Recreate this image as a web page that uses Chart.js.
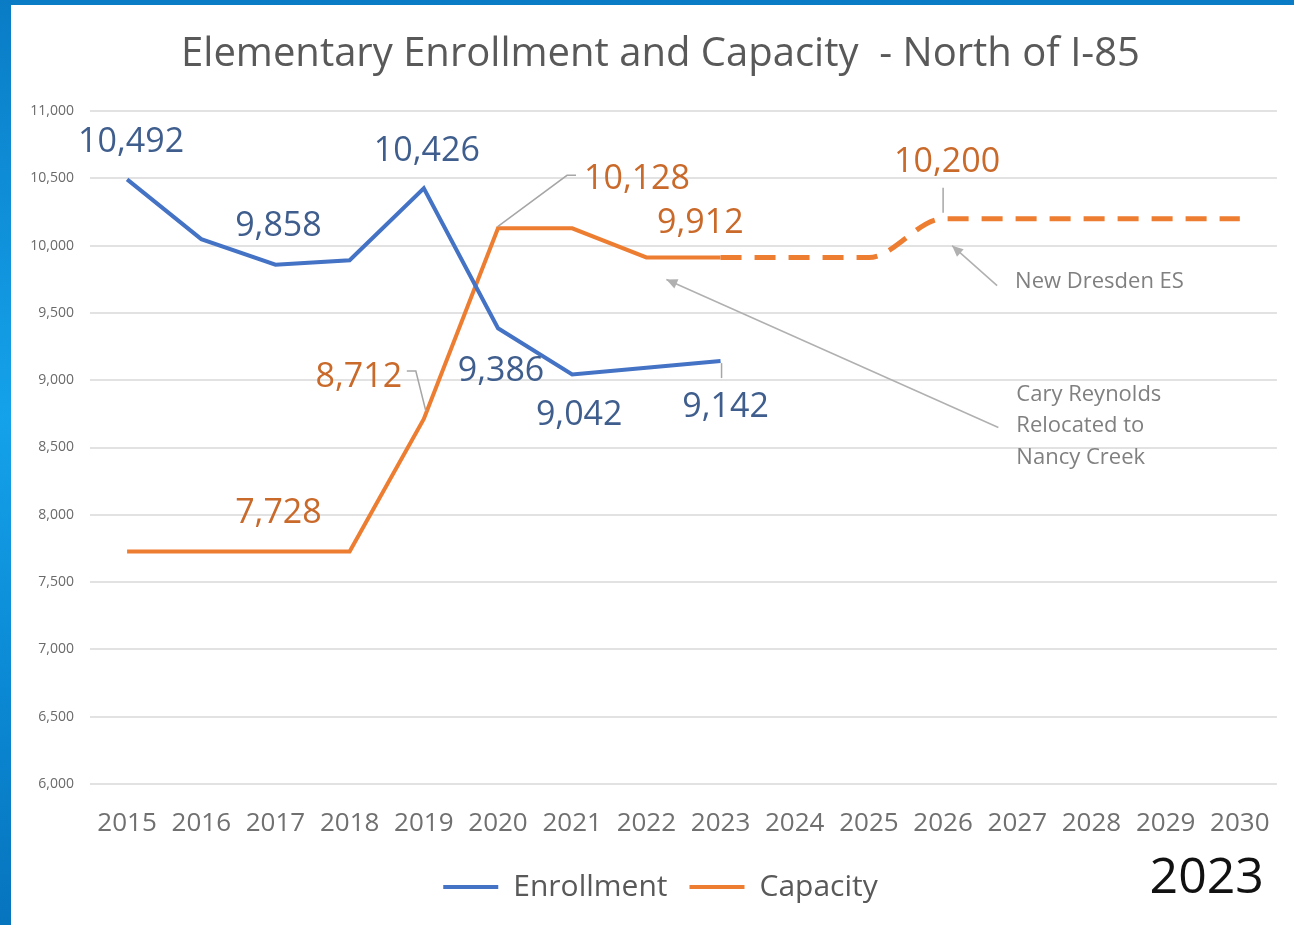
<!DOCTYPE html>
<html><head><meta charset="utf-8">
<script src="https://cdn.jsdelivr.net/npm/chart.js@4/dist/chart.umd.min.js"></script>
<style>
html,body{margin:0;padding:0;}
body{width:1294px;height:925px;overflow:hidden;position:relative;background:linear-gradient(180deg,#0a7cc6 0%,#14a2ea 45%,#0b88d3 75%,#0774be 100%);}
#wrap{position:absolute;left:11px;top:5px;width:1283px;height:920px;background:#fff;}
canvas{display:block;}
</style></head><body><div id="wrap"><canvas id="c" width="1283" height="920"></canvas></div>
<script>
// ---------- data ----------
const years = ['2015','2016','2017','2018','2019','2020','2021','2022','2023','2024','2025','2026','2027','2028','2029','2030'];
const enrollment = [10492, 10048, 9858, 9891, 10426, 9386, 9042, 9092, 9142, null, null, null, null, null, null, null];
const capacity = [7728, 7728, 7728, 7728, 8712, 10128, 10128, 9912, 9912, null, null, null, null, null, null, null];
const capacityPlanned = [null, null, null, null, null, null, null, null, 9912, 9912, 9912, 10200, 10200, 10200, 10200, 10200];
const yTickValues = [6000, 6500, 7000, 7500, 8000, 8500, 9000, 9500, 10000, 10500, 11000];
const enrollmentLabelYears = ['2015','2017','2019','2020','2021','2023'];
const capacityLabelYears = ['2017','2019','2020','2022'];
const plannedLabelYears = ['2026'];
const titleText = 'Elementary Enrollment and Capacity  - North of I-85';
const noteDresden = 'New Dresden ES';
const noteCary = ['Cary Reynolds', 'Relocated to', 'Nancy Creek'];
const cornerText = '2023';

// ---------- styling ----------
const FONT = "'Open Sans', sans-serif";
const BLUE = '#4472C4', ORANGE = '#ED7D31';
const BLUE_LABEL = '#3F5E8D', ORANGE_LABEL = '#C9692A';
const labelOffsets = [
  {'2015':[4,-37], '2017':[3,-38], '2019':[3,-37], '2020':[3,43], '2021':[7,41], '2023':[5,46]},
  {'2017':[3,-38], '2019':[-65,-42], '2020':[139,-49], '2022':[54,-34]},
  {'2026':[4,-56]}
];

const overlay = {
  id: 'overlay',
  afterDatasetsDraw(chart) {
    const ctx = chart.ctx, xs = chart.scales.x, ys = chart.scales.y;
    const pt = (ds, year) => {
      const i = years.indexOf(year);
      return [xs.getPixelForValue(i), ys.getPixelForValue(chart.data.datasets[ds].data[i])];
    };
    ctx.save();
    // leader lines
    ctx.strokeStyle = '#a6a6a6'; ctx.lineWidth = 1.5;
    const poly = (ds, year, pts) => {
      const [x, y] = pt(ds, year);
      ctx.beginPath();
      pts.forEach(([dx, dy], k) => k ? ctx.lineTo(x + dx, y + dy) : ctx.moveTo(x + dx, y + dy));
      ctx.stroke();
    };
    poly(0, '2023', [[1,2],[1,17]]);
    poly(1, '2019', [[-17,-48],[-8,-48],[2,-8]]);
    poly(1, '2020', [[0,-2],[69,-53],[78,-53]]);
    poly(2, '2026', [[0,-6],[0,-31]]);
    // arrows
    const arrow = (ds, year, head, tail) => {
      const [x, y] = pt(ds, year);
      const hx = x + head[0], hy = y + head[1], tx = x + tail[0], ty = y + tail[1];
      ctx.strokeStyle = '#b0b0b0'; ctx.fillStyle = '#b0b0b0'; ctx.lineWidth = 1.5;
      ctx.beginPath(); ctx.moveTo(tx, ty); ctx.lineTo(hx, hy); ctx.stroke();
      const a = Math.atan2(hy - ty, hx - tx), L = 11, W = 5;
      ctx.beginPath();
      ctx.moveTo(hx, hy);
      ctx.lineTo(hx - L * Math.cos(a) + W * Math.sin(a), hy - L * Math.sin(a) - W * Math.cos(a));
      ctx.lineTo(hx - L * Math.cos(a) - W * Math.sin(a), hy - L * Math.sin(a) + W * Math.cos(a));
      ctx.closePath(); ctx.fill();
    };
    arrow(2, '2026', [9, 27], [54, 67]);
    arrow(1, '2022', [20, 22], [352, 170]);
    // data labels
    ctx.textAlign = 'center'; ctx.textBaseline = 'middle';
    ctx.font = '34px ' + FONT;
    const lab = (ds, list, color) => {
      ctx.fillStyle = color;
      list.forEach(year => {
        const [x, y] = pt(ds, year);
        const off = labelOffsets[ds][year];
        const v = chart.data.datasets[ds].data[years.indexOf(year)];
        ctx.fillText(v.toLocaleString('en-US'), x + off[0], y + off[1]);
      });
    };
    lab(0, enrollmentLabelYears, BLUE_LABEL);
    lab(1, capacityLabelYears, ORANGE_LABEL);
    lab(2, plannedLabelYears, ORANGE_LABEL);
    // notes
    ctx.fillStyle = '#808080'; ctx.textAlign = 'left';
    ctx.font = '22px ' + FONT;
    {
      const [x, y] = pt(2, '2026');
      ctx.fillText(noteDresden, x + 72, y + 63);
    }
    {
      const [x, y] = pt(1, '2022');
      noteCary.forEach((t, k) => ctx.fillText(t, x + 370, y + 137 + k * 31.5));
    }
    // corner text
    ctx.fillStyle = '#111111'; ctx.textAlign = 'right';
    ctx.font = '50px ' + FONT;
    ctx.fillText(cornerText, chart.chartArea.right - 13, 874);
    ctx.restore();
  }
};

new Chart(document.getElementById('c'), {
  type: 'line',
  data: {
    labels: years,
    datasets: [
      {label: 'Enrollment', data: enrollment, borderColor: BLUE, backgroundColor: BLUE, borderWidth: 4, pointRadius: 0, tension: 0},
      {label: 'Capacity', data: capacity, borderColor: ORANGE, backgroundColor: ORANGE, borderWidth: 4, pointRadius: 0, tension: 0},
      {label: 'Capacity (planned)', data: capacityPlanned, borderColor: ORANGE, backgroundColor: ORANGE, borderWidth: 5, borderDash: [21, 13], pointRadius: 0, cubicInterpolationMode: 'monotone'}
    ]
  },
  options: {
    responsive: false,
    animation: false,
    layout: {padding: {left: 30, right: 14, top: 0, bottom: 13}},
    plugins: {
      title: {display: true, text: titleText, color: '#595959', font: {family: FONT, size: 40, weight: 'normal'}, padding: {top: 26, bottom: 32}},
      legend: {
        position: 'bottom',
        labels: {
          filter: item => item.datasetIndex < 2,
          usePointStyle: true, pointStyle: 'line', pointStyleWidth: 55,
          color: '#595959', font: {family: FONT, size: 30}, padding: 22
        }
      },
      tooltip: {enabled: false}
    },
    scales: {
      x: {
        offset: true,
        grid: {display: false, drawTicks: false},
        border: {display: false},
        ticks: {color: '#707070', font: {family: FONT, size: 26}, padding: 24, maxRotation: 0, autoSkip: false},
        afterFit: s => { s.height = 66; }
      },
      y: {
        min: 6000, max: 11000,
        afterBuildTicks: s => { s.ticks = yTickValues.map(v => ({value: v})); },
        grid: {color: '#e2e2e2', lineWidth: 2, drawTicks: false},
        border: {display: false},
        ticks: {color: '#6a6a6a', font: {family: FONT, size: 14}, padding: 16, callback: v => Number(v).toLocaleString('en-US')},
        afterFit: s => { s.width = 49; s._computeLabelArea = () => undefined; }
      }
    }
  },
  plugins: [overlay]
});
</script>
</body></html>
